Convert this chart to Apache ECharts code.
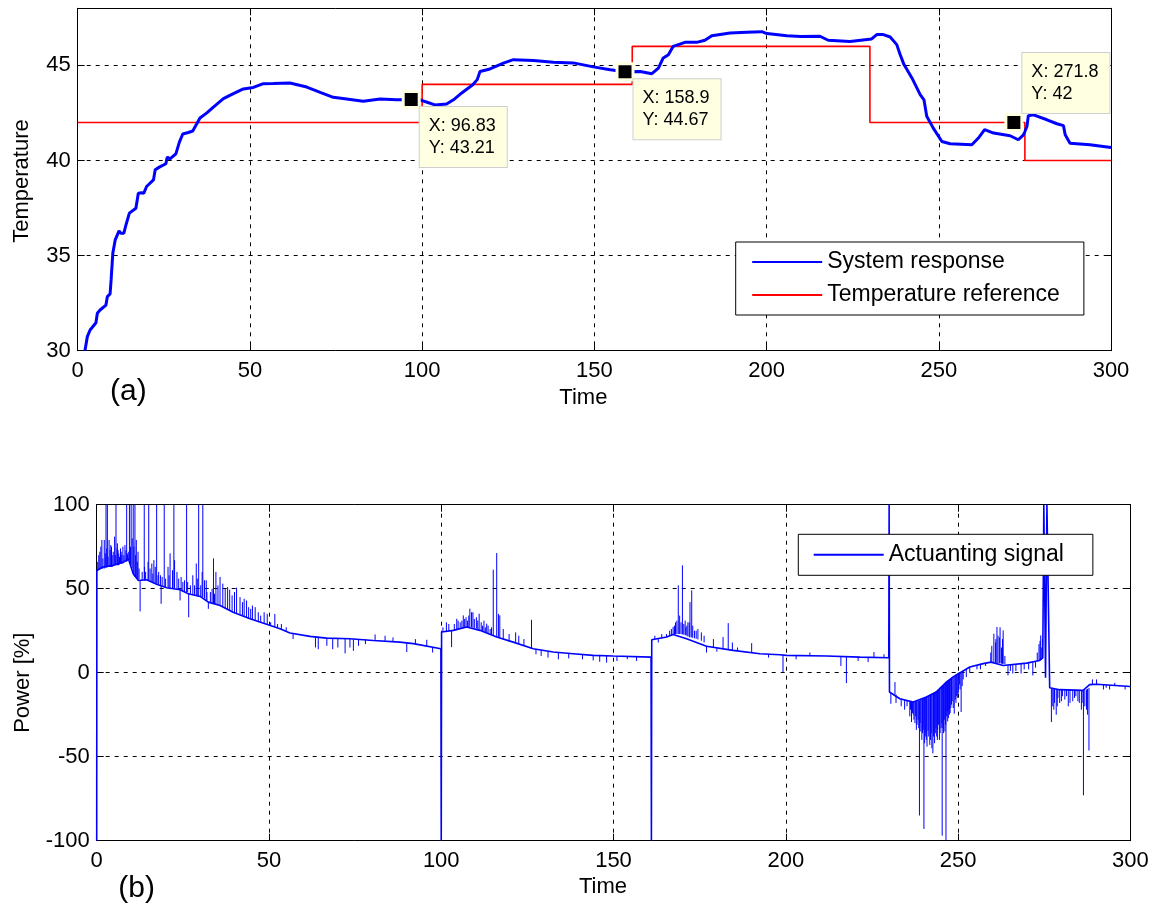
<!DOCTYPE html>
<html><head><meta charset="utf-8">
<script src="https://cdn.jsdelivr.net/npm/echarts/dist/echarts.min.js"></script>
<style>html,body{margin:0;padding:0;background:#fff;}#c{width:1151px;height:906px;}</style>
</head><body><div id="c"></div>
<script>
// ---------- data ----------
const xTicks = [0, 50, 100, 150, 200, 250, 300];
const tempTicks = [30, 35, 40, 45];
const tempMax = 48;
const powerTicks = [-100, -50, 0, 50, 100];

const sysTime = [2.1,2.8,3.6,5.3,5.7,6.5,8.2,8.6,9.4,9.7,
10.2,10.9,12.0,12.5,13.4,14.0,15.0,16.9,17.6,18.6,
19.2,20.0,22.0,22.5,23.7,25.6,26.0,26.8,28.5,29.5,
30.5,32.1,33.4,35.5,37.5,39.4,42.3,45.2,48.1,51.0,
53.9,56.8,61.6,66.5,70.4,74.2,78.1,82.9,87.8,92.6,
96.83,99.4,100.8,103.7,107.1,109.1,111.5,114.7,116.0,116.8,
119.7,123.6,126.5,132.3,138.1,143.9,149.7,154.6,158.9,163.3,
166.7,168.6,170.0,171.5,172.9,176.3,179.7,182.1,184.1,189.4,
194.2,198.6,200.1,205.9,210.0,215.5,217.9,224.2,230.5,232.0,
233.9,235.9,237.8,238.8,239.9,242.2,244.6,245.7,246.5,248.4,
250.9,253.3,259.6,261.5,263.3,265.9,270.7,273.1,274.6,275.6,
276.0,277.5,281.4,284.3,286.2,286.7,288.1,293.9,300.0];
const sysTemp = [30.0,30.74,31.09,31.47,31.97,32.14,32.40,32.84,32.98,33.72,
35.13,35.83,36.30,36.18,36.18,36.60,37.23,37.49,38.28,38.30,
38.28,38.63,38.98,39.51,39.65,39.83,40.18,40.08,40.35,40.95,
41.39,41.47,41.55,42.23,42.50,42.81,43.25,43.51,43.76,43.84,
44.04,44.05,44.07,43.86,43.58,43.32,43.23,43.11,43.23,43.19,
43.21,43.19,43.10,42.92,42.97,43.19,43.55,43.98,44.25,44.68,
44.81,45.12,45.30,45.25,45.16,45.13,44.92,44.77,44.67,44.68,
44.56,44.86,45.39,45.56,46.00,46.21,46.21,46.32,46.56,46.70,
46.74,46.77,46.67,46.56,46.52,46.53,46.32,46.26,46.39,46.62,
46.62,46.49,46.09,45.56,45.04,44.34,43.46,43.19,42.32,41.70,
41.00,40.88,40.83,41.18,41.62,41.44,41.30,41.09,41.35,41.79,
42.35,42.40,42.14,41.93,41.83,41.35,40.91,40.83,40.68];

const refTime = [0, 100, 161, 230, 275, 300];
const refTemp = [42, 44, 46, 42, 40, 40];

const tipTime = [96.83, 158.9, 271.8];
const tipTemp = [43.21, 44.67, 42];

const actTime = [0,0.05,1.9,4.8,7.7,9.2,10.6,12.1,14.5,17.4,
20.3,24.2,26.6,30.0,32.4,35.8,39.6,44.5,49.3,53.2,
56.1,61.9,66.7,73.5,80.3,88.0,91.9,99.9,100.0,100.1,
103.5,107.4,111.2,116.1,120.9,126.7,132.5,138.3,144.1,149.9,
160.9,161.0,161.1,165.4,167.3,171.2,177.0,184.7,192.5,198.3,
200.2,211.8,221.5,229.9,230.0,230.1,233.1,237.0,240.8,243.7,
246.6,248.5,251.0,253.4,257.3,259.6,263.1,269.9,273.7,274.6,
274.9,275.4,275.8,276.2,276.6,279.5,286.3,288.2,290.2,300.0];
const actPower = [-100,61,62.9,63.9,65.8,67.8,58.9,54.9,55.3,52.6,
50.6,49.4,47.0,45.4,42.0,40.0,36.0,32.1,28.8,26.2,
23.6,21.6,20.6,20.2,19.2,18.2,17.3,14.3,-100,24.2,
25.2,27.2,25.2,21.2,18.2,14.3,12.3,11.3,10.3,9.9,
9.3,-100,19.6,21.2,22.8,20.2,15.7,13.3,11.3,10.7,
10.3,9.9,9.3,8.9,100,-11.5,-15.5,-17.5,-14.5,-11.5,
-5.6,-2.6,0.4,3.4,5.4,6.3,4.3,5.7,7.3,9,
100,-3,100,100,-9,-10.1,-10.5,-7.1,-6.9,-8.2];

// spikes of the actuating signal: [time, from, to]
const spikeRows = [
[2.7,63,100],[3.1,63,100],[5.6,64,100],[8.7,66,100],[9.5,67,100],[10.0,64,100],[10.6,59,100],[11.1,57,100],[13.8,55,100],[15.1,55,100],[17.4,53,100],[19.6,51,100],[22.4,50,100],[26.1,48,100],[29.6,45.5,100],[30.8,45,100],
[0.6,61,70],[1.2,62,75],[1.5,62,79],[1.8,62,68],[2.2,62,79],[3.6,63,79],[4.1,63,76],[4.5,63,70],[5.2,64,81],[5.9,64,74],[6.0,64,77],[6.4,64,71],[6.9,65,74],[7.3,65,70],[7.6,65,75],[8.2,66,76],[9.0,67,71],
[0.3,60.5,66],[0.9,61.5,72],[2.5,62.5,71],[2.9,62.5,74],[3.3,63,69],[3.9,63,73],[4.3,63,75],[4.8,63.5,72],[5.4,64,70],[6.2,64,73],[6.6,64.5,69],[7.1,65,72],[7.9,65.5,70],[8.5,66,73],[8.9,66.5,70],[9.3,67,72],[9.8,65,75],[10.3,62,80],[10.8,58,75],[11.3,57,70],[11.8,56,66],[12.3,55.5,62],[13.2,55,60],[14.2,55,60],[15.5,54.5,62],[16.3,54,59],[17.8,52.7,58],[19.0,51.8,57],[20.0,51,56],[21.0,50.4,58],[23.8,49.6,56],[25.0,49,54],[26.4,48,54],[28.4,46.3,52],[30.2,45.2,52],[32.0,42.8,48],[33.5,41.2,50],[34.2,40.8,47],
[11.5,56.5,79],[12.0,55.5,72],[13.9,55,63],[14.9,55,66],[16.0,54,65],[16.6,53.5,67],[17.0,53,63],[18.0,52.5,60],[18.5,52,58],[20.7,50.5,63],[21.3,50.3,71],[22.0,50,61],[22.6,50,67],[23.3,49.8,60],[24.5,49.3,57],[25.5,48.5,55],[27.2,47,52],[27.9,46.5,58],[28.9,46,65],[29.2,45.8,56],[30.6,45,60],[31.3,44,55],[31.8,43,55],[33.0,41.5,48],[33.9,41,68],[34.6,40.5,60],[35.2,40.2,52],
[12.6,55,36.5],[18.7,52,41],[24.2,49,43],[26.7,47.5,33],[32.4,42,38],
[35.8,40,57],[36.6,39.5,53],[37.3,38.5,50],[38.0,37.5,51],[38.6,37,49.4],[39.3,36.3,46],[40.0,35.8,48],[40.6,35.3,50.6],[41.6,34.5,45],[42.3,34,42],[42.8,33.5,44],[43.5,33,43],[44.1,32.4,39],[44.7,32,38],[45.2,31.6,40],[46.0,31,39],[46.9,30.4,36],[47.6,30,34],[48.6,29.2,36],[49.5,28.7,35],[50.5,28,30],[51.7,27.2,35],[52.5,26.7,29],[53.6,26,29],[55.0,24.5,27],
[57.0,23,20],[63.5,21.5,15],[64.3,21.3,14],[66.8,20.8,16],[68.5,20.5,14],[70.0,20.4,15],[72.1,20.2,11.5],[73.5,20.2,15],[74.5,20,13],[76.0,20,16],[78.0,19.8,17],[80.8,19.2,22.8],[83.7,19,22],[86.0,18.5,21],[90.0,17.6,12.3],[92.5,17.2,20],[95.8,15.8,19.6],[97.5,15,12],
[100.5,24.5,27],[101.5,24.7,30],[102.2,25,29],[103.0,25.2,15.2],[104.5,25.5,32.1],[105.5,26,30],[106.4,26.5,34.1],[107.2,27,33],[108.3,27,38.1],[108.8,27,36],[109.2,26.8,36],[110.2,26.3,33],[111.0,25.5,35.1],[111.6,25.2,30],[112.4,24.5,31],[113.2,23.8,29.2],[115.1,22,61.3],[116.1,21.2,71.2],[116.6,21,35],[117.0,21,34.1],[118.0,20.2,26],[119.7,18.5,23],[121.6,18,24],[122.5,17.5,22],[124.0,16,20],[126.2,14.5,31.5],[127.5,14,11],[129.0,13.5,10],[131.0,12.8,9],[134.0,12,8],[137.0,11.5,8.5],[141.0,11,8],[144.1,10.3,7.3],[146.0,10,6.5],[148.0,10,6],[151.0,9.8,7],[154.0,9.7,8],[156.7,9.5,7],
[103.8,25.3,29],[104.9,25.7,31],[106.0,26.2,31],[106.8,26.7,32],[107.6,27,31],[108.0,27,34],[109.6,26.6,32],[110.6,26,31],[112.0,24.8,28],[112.8,24.2,27],[113.6,23.5,28],[114.2,23,26],[114.6,22.5,27],
[162.0,19.8,22],[163.0,20,18],[164.0,20.5,23],[165.4,21.2,23],[166.3,22,25],[167.3,22.8,27.2],[168.0,23,30],[168.8,23,52],[169.2,23,34],[170.0,22.8,63.9],[170.4,22.6,29],[171.0,22.3,27],[171.6,21.5,30],[172.2,21,42],[172.7,21,49],[173.5,20.5,25],[174.5,19.8,26],[175.5,19,24],[176.3,18,22],[177.0,16,12],[179.0,15,20],[180.0,14.5,12.5],[181.8,14,21.2],[183.3,13.5,29.5],[184.5,13.4,18],[186.0,13,15],[190.1,12,17.6],[195.0,11,9],[199.2,10.5,0.4],[203.0,10.2,8],[207.0,10,12],[216.0,9.7,4],[217.6,9.6,-6.2],[221.0,9.4,7],[223.9,9.3,6.3],[225.6,9.2,12.3],[228.5,9,11],
[166.8,22.4,26],[167.7,23,28],[168.4,23,31],[169.6,23,30],[170.8,22.4,31],[171.3,22,28],[172.0,21.3,30],[173.0,20.8,28],[174.0,20.2,25],
[230.5,-12,-18.5],[231.7,-13,-5.6],[232.0,-13,-18],[233.5,-15.5,-20],[234.5,-16,-22],[235.2,-16.5,-20],[236.0,-17,-26],[236.5,-17.2,-29.4],[237.0,-17.5,-25],[237.5,-17.3,-30],[237.9,-17,-34],[238.4,-16.8,-28],[238.8,-16.6,-85],[239.2,-16,-35],[239.7,-15.5,-36],[240.1,-15,-93],[240.5,-14.7,-38],[240.8,-14.5,-40],[241.3,-14,-34.6],[241.8,-13.3,-43],[242.2,-12.8,-36],[242.7,-12.2,-48],[243.0,-11.9,-35],[243.4,-11.4,-36],[243.8,-10.8,-38],[244.1,-10.2,-34],[244.6,-9.2,-40],[245.1,-8.3,-33],[245.4,-7.8,-97],[245.8,-7,-36],[246.2,-6.2,-35],[246.5,-5.7,-100],[246.9,-5,-23],[247.2,-4.5,-27],[247.5,-4,-25],[247.9,-3.3,-21],[248.3,-2.7,-17],[248.9,-1.8,-24.4],[249.6,-0.8,-14],[249.9,-0.3,-15],[250.4,0.2,-7],[250.9,0.6,-23.4],[251.5,1.2,-4],[252.4,2.4,-2.6],[253.4,3.4,0],[255.5,4.6,2],
[236.2,-17.1,-22],[236.8,-17.4,-24],[237.2,-17.4,-28],[237.7,-17.2,-26],[238.1,-16.9,-31],[238.6,-16.7,-33],[239.0,-16.3,-30],[239.5,-15.8,-40],[239.9,-15.2,-34],[240.3,-14.8,-42],[240.7,-14.5,-36],[241.0,-14.2,-44],[241.5,-13.7,-38],[242.0,-13,-40],[242.4,-12.5,-45],[242.9,-12,-38],[243.2,-11.6,-42],[243.6,-11.1,-33],[244.0,-10.4,-40],[244.3,-9.8,-31],[244.8,-8.8,-36],[245.3,-8,-30],[245.6,-7.4,-33],[246.0,-6.6,-28],[246.4,-5.9,-31],[246.7,-5.3,-26],[247.0,-4.8,-29],[247.4,-4.2,-22],[247.7,-3.7,-24],[248.1,-3,-19],[248.6,-2.2,-21],[249.2,-1.3,-16],[249.4,-1,-18],[250.1,0,-12],[250.6,0.4,-10],[251.2,0.9,-8],
[256.5,5,2],[258.0,5.8,4],[259.8,6.2,16],[260.4,6.2,23.2],[260.9,6,18],[261.3,5.8,27.2],[261.6,5.8,22],[262.2,5.6,27],[262.6,5.4,15],[263.1,5.2,25.2],[263.6,5,10],[264.5,4.5,-1.6],[265.2,4.6,1],[265.9,4.7,-0.5],[266.8,4.8,1],[268.3,5.2,-0.5],[269.2,5.4,2],[270.5,5.8,2],[271.7,6.2,-1.6],[272.5,6.6,3],[273.5,7.2,17],[274.0,7.5,22.2],[274.3,8,15],
[259.5,6.3,12],[261.0,5.9,20],[262.0,5.7,21],[262.9,5.3,20],[273.0,7,12],[273.8,7.4,19],[274.5,8.5,20],
[277.1,-9.5,-29.4],[277.5,-9.7,-20],[278.0,-9.8,-18],[278.5,-10,-25],[279.0,-10,-15],[279.5,-10.1,-18],[280.3,-10.1,-14],[281.0,-10.2,-16],[282.0,-10.2,-20],[283.3,-10.3,-17],[284.2,-10.3,-14],[285.2,-10.4,-18],[285.8,-10.5,-22],[286.4,-10.5,-73],[286.8,-10.4,-20],[287.3,-10,-22],[288.0,-9,-46.3],[289.0,-7,-4],[290.2,-6.9,-4],[292.2,-7.2,-10],[293.0,-7.3,-9],[294.0,-7.4,-10],[295.5,-7.6,-6],[297.0,-7.8,-8],[298.5,-8,-10],
[277.8,-9.8,-22],[278.8,-10,-20],[280.0,-10.1,-17],[281.5,-10.2,-14],[282.5,-10.2,-18],[283.8,-10.3,-15],[284.8,-10.3,-17],[286.0,-10.5,-18],[287.6,-9.6,-25]
];

// ---------- chart ----------
const FONT = 'Liberation Sans, Arial, Helvetica, sans-serif';
const BLUE = '#0000ff', RED = '#ff0000';
const zip = (a, b) => a.slice(0, Math.min(a.length, b.length)).map((v, i) => [v, b[i]]);

function xAxisMain(gi, gap, pad) {
  return {
    type: 'value', gridIndex: gi, position: 'bottom',
    min: xTicks[0], max: xTicks[xTicks.length - 1], interval: xTicks[1] - xTicks[0],
    name: 'Time', nameLocation: 'middle', nameGap: gap, nameMoveOverlap: false,
    nameTextStyle: { fontSize: 22, color: '#000', fontFamily: FONT, padding: pad },
    axisLine: { show: true, onZero: false, lineStyle: { color: '#000', width: 1 } },
    axisTick: { show: true, inside: true, length: 7, lineStyle: { color: '#000' } },
    axisLabel: { fontSize: 22, color: '#000', fontFamily: FONT, margin: 9 },
    splitLine: { show: true, lineStyle: { color: '#000', width: 1, type: [4, 5] } }
  };
}
function xAxisTop(gi) {
  return {
    type: 'value', gridIndex: gi, position: 'top',
    min: xTicks[0], max: xTicks[xTicks.length - 1], interval: xTicks[1] - xTicks[0],
    axisLine: { show: true, onZero: false, lineStyle: { color: '#000', width: 1 } },
    axisTick: { show: true, inside: true, length: 7, lineStyle: { color: '#000' } },
    axisLabel: { show: false }, splitLine: { show: false }
  };
}
function yAxisMain(gi, ticks, max, name, gap, pad) {
  return {
    type: 'value', gridIndex: gi, position: 'left',
    min: ticks[0], max: max, interval: ticks[1] - ticks[0],
    name: name, nameLocation: 'middle', nameGap: gap, nameRotate: 90, nameMoveOverlap: false,
    nameTextStyle: { fontSize: 22, color: '#000', fontFamily: FONT, padding: pad },
    axisLine: { show: true, onZero: false, lineStyle: { color: '#000', width: 1 } },
    axisTick: { show: true, inside: true, length: 7, lineStyle: { color: '#000' } },
    axisLabel: { fontSize: 22, color: '#000', fontFamily: FONT, margin: 7,
      formatter: v => (ticks.indexOf(v) >= 0 ? String(v) : '') },
    splitLine: { show: true, lineStyle: { color: '#000', width: 1, type: [4, 5] } }
  };
}
function yAxisRight(gi, ticks, max) {
  return {
    type: 'value', gridIndex: gi, position: 'right',
    min: ticks[0], max: max, interval: ticks[1] - ticks[0],
    axisLine: { show: true, onZero: false, lineStyle: { color: '#000', width: 1 } },
    axisTick: { show: true, inside: true, length: 7, lineStyle: { color: '#000' } },
    axisLabel: { show: false }, splitLine: { show: false }
  };
}

const tipData = tipTime.map((t, i) => ({
  coord: [t, tipTemp[i]],
  label: { formatter: 'X: ' + String(t) + '\nY: ' + String(tipTemp[i]),
           position: i === 2 ? [18, -60] : [18, 17] }
}));

const legendCommon = {
  orient: 'vertical', itemWidth: 70, itemHeight: 14,
  backgroundColor: '#fff', borderColor: '#000', borderWidth: 1, borderRadius: 0, selectedMode: false,
  itemStyle: { opacity: 0 },
  textStyle: { fontSize: 23, lineHeight: 24, color: '#000', fontFamily: FONT }
};

const option = {
  animation: false,
  textStyle: { fontFamily: FONT },
  grid: [
    { left: 77.7, top: 8.3, width: 1033.3, height: 342.4, outerBoundsMode: 'none', containLabel: false },
    { left: 96.7, top: 504.7, width: 1033.6, height: 336, outerBoundsMode: 'none', containLabel: false }
  ],
  xAxis: [ xAxisMain(0, 36, [0, 22, 0, 0]), xAxisTop(0), xAxisMain(1, 35, [0, 21, 0, 0]), xAxisTop(1) ],
  yAxis: [
    yAxisMain(0, tempTicks, tempMax, 'Temperature', 45, [0, 3, 0, 0]), yAxisRight(0, tempTicks, tempMax),
    yAxisMain(1, powerTicks, powerTicks[powerTicks.length - 1], 'Power [%]', 63, [0, 20, 0, 0]),
    yAxisRight(1, powerTicks, powerTicks[powerTicks.length - 1])
  ],
  legend: [
    Object.assign({}, legendCommon, { data: ['System response', 'Temperature reference'],
      left: 735.7, top: 242, padding: [8, 24, 8, 15.5], itemGap: 9 }),
    Object.assign({}, legendCommon, { data: ['Actuanting signal'],
      left: 798.3, top: 534.3, padding: [8.5, 29, 8.5, 14.4] })
  ],
  graphic: [
    { type: 'text', x: 128.3, y: 391.7, style: { text: '(a)', fontSize: 30, fontFamily: FONT, fill: '#000', align: 'center', verticalAlign: 'middle' } },
    { type: 'text', x: 136.7, y: 888.3, style: { text: '(b)', fontSize: 30, fontFamily: FONT, fill: '#000', align: 'center', verticalAlign: 'middle' } }
  ],
  series: [
    { name: 'Temperature reference', type: 'line', xAxisIndex: 0, yAxisIndex: 0,
      data: zip(refTime, refTemp), step: 'end', symbol: 'none', z: 2,
      lineStyle: { color: RED, width: 1.6 }, itemStyle: { color: RED } },
    { name: 'System response', type: 'line', xAxisIndex: 0, yAxisIndex: 0,
      data: zip(sysTime, sysTemp), symbol: 'none', z: 3,
      lineStyle: { color: BLUE, width: 3 }, itemStyle: { color: BLUE },
      markPoint: {
        symbol: 'rect', symbolSize: 16, silent: true,
        itemStyle: { color: '#000', borderColor: '#ffffe1', borderWidth: 3 },
        label: { show: true, color: '#000', fontSize: 18, lineHeight: 22, fontFamily: FONT,
          align: 'left', verticalAlign: 'top',
          backgroundColor: '#ffffe1', borderColor: '#cfcfcf', borderWidth: 1, padding: [8, 11, 8, 9] },
        data: tipData
      } },
    { name: 'Actuanting signal', type: 'line', xAxisIndex: 2, yAxisIndex: 2,
      data: zip(actTime, actPower), symbol: 'none', z: 3,
      lineStyle: { color: BLUE, width: 1.6 }, itemStyle: { color: BLUE } },
    { name: 'spikes', type: 'custom', xAxisIndex: 2, yAxisIndex: 2, z: 3, clip: true,
      data: spikeRows, encode: { x: 0, y: [1, 2] },
      renderItem: function (params, api) {
        const p0 = api.coord([api.value(0), api.value(1)]);
        const p1 = api.coord([api.value(0), api.value(2)]);
        return { type: 'line', shape: { x1: p0[0], y1: p0[1], x2: p1[0], y2: p1[1] },
                 style: { stroke: BLUE, lineWidth: 1 } };
      } }
  ]
};
const chart = echarts.init(document.getElementById('c'), null, { renderer: 'canvas' });
chart.setOption(option);
</script>
</body></html>
